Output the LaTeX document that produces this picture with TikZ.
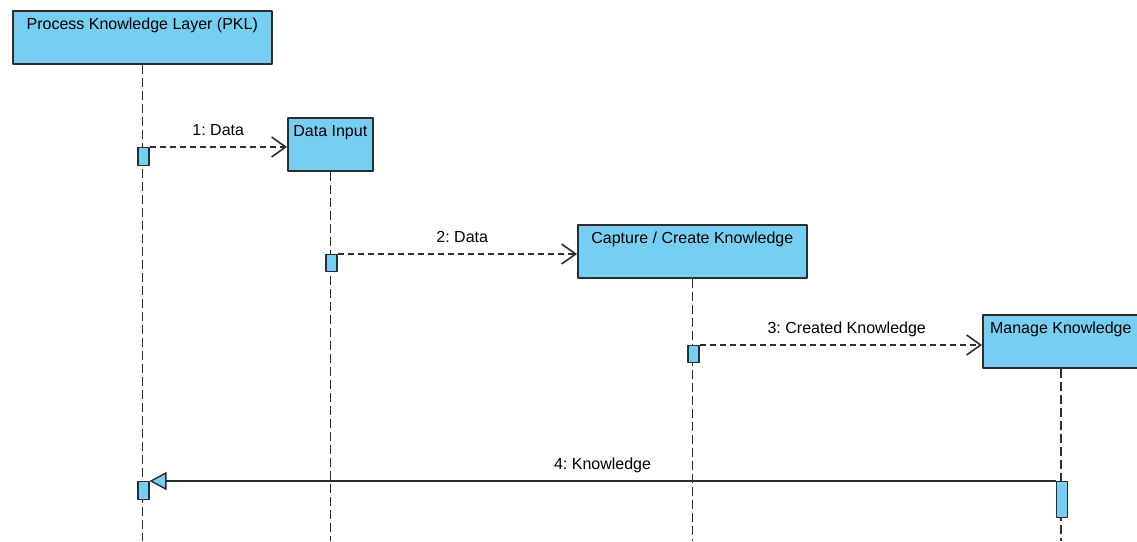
\documentclass[tikz,border=0pt]{standalone}
\usepackage{fontspec}
\setmainfont{Liberation Sans}
\usetikzlibrary{arrows.meta,positioning}
\definecolor{lblue}{RGB}{118,206,242}
\definecolor{ink}{RGB}{45,45,45}
\begin{document}
\frenchspacing
\begin{tikzpicture}[x=1pt, y=-1pt, font=\fontsize{16}{18}\selectfont, line join=round,
	head/.style={draw=ink, fill=lblue, line width=1.6pt, anchor=north west, minimum height=53pt, inner sep=2pt, text height=17pt, text depth=32pt},
	act/.style={draw=ink, fill=lblue, line width=1.4pt, minimum width=11pt, anchor=north, inner sep=0pt},
	life/.style={draw=ink, line width=1.5pt, dash pattern=on 9pt off 4pt},
	msg/.style={draw=ink, line width=1.5pt, dash pattern=on 6pt off 4pt, -{Straight Barb[length=14pt,width=20pt,line width=1.6pt]}},
	ret/.style={draw=ink, line width=1.6pt, -{Triangle[open,fill=lblue,length=17pt,width=18pt,line width=1.4pt]}}]
		\useasboundingbox (0,0) rectangle (1137,541);
		\def\bot{541}
		% lifeline heads
		\node[head, minimum width=259pt] (pkl) at (12,10) {Process Knowledge Layer (PKL)};
		\node[head, minimum width=85pt] (din) at (287,117) {Data Input};
		\node[head, minimum width=229pt] (cap) at (577,224) {Capture / Create Knowledge};
		\node[head, minimum width=156pt] (mng) at (982,314) {Manage Knowledge};
		\path (pkl.south |- 0,\bot) coordinate (pklEnd)
		(din.south |- 0,\bot) coordinate (dinEnd)
		(cap.south |- 0,\bot) coordinate (capEnd)
		(mng.south |- 0,\bot) coordinate (mngEnd);
		\foreach \n in {pkl,din,cap,mng}
		\draw[life] (\n.south) -- (\n End);
		% activations
		\node[act, minimum height=18pt] (actA) at ([xshift=1pt]pkl.south |- 0,147) {};
		\node[act, minimum height=17pt] (actB) at ([xshift=1pt]din.south |- 0,254) {};
		\node[act, minimum height=17pt] (actC) at ([xshift=1pt]cap.south |- 0,345) {};
		\node[act, minimum height=18pt] (actD) at ([xshift=1pt]pkl.south |- 0,481) {};
		\node[act, minimum height=36pt] (actE) at ([xshift=1pt]mng.south |- 0,481) {};
		% messages
		\draw[msg] (actA.north east) -- (actA.north east -| din.west) node[midway, anchor=base, yshift=12pt] {1: Data};
		\draw[msg] (actB.north east) -- (actB.north east -| cap.west) node[midway, anchor=base, yshift=12pt, xshift=5pt] {2: Data};
		\draw[msg] (actC.north east) -- (actC.north east -| mng.west) node[midway, anchor=base, yshift=12pt, xshift=6pt] {3: Created Knowledge};
		\draw[ret] (actE.north west) -- (actE.north west -| actD.east) node[midway, anchor=base, yshift=12pt] {4: Knowledge};
\end{tikzpicture}
\end{document}
